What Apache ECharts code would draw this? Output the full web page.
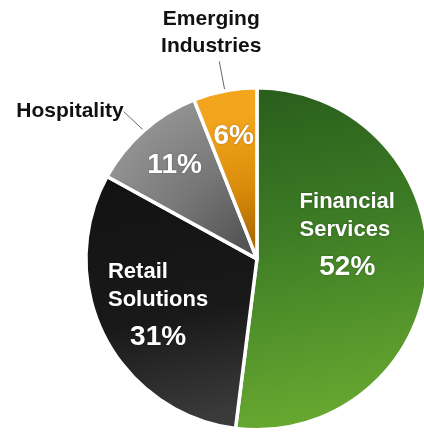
<!DOCTYPE html>
<html><head><meta charset="utf-8">
<script src="https://cdn.jsdelivr.net/npm/echarts@6/dist/echarts.min.js"></script>
<style>html,body{margin:0;padding:0;background:#fff}#c{width:424px;height:438px}</style>
</head><body><div id="c"></div>
<script>
const categories = ['Financial Services', 'Retail Solutions', 'Hospitality', 'Emerging Industries'];
const shares = [52, 31, 11, 6];
const outsideNamed = ['Hospitality', 'Emerging Industries'];

const FONT = "'Liberation Sans', Arial, Helvetica, sans-serif";
const fills = [
  { type: 'linear', x: 0, y: 0, x2: 0.35, y2: 1, colorStops: [
    { offset: 0, color: '#285c1c' }, { offset: 0.45, color: '#3e7d25' }, { offset: 1, color: '#69aa31' } ] },
  { type: 'linear', x: 0, y: 0, x2: 0.3, y2: 1, colorStops: [
    { offset: 0, color: '#121212' }, { offset: 0.6, color: '#191919' }, { offset: 1, color: '#3a3a3a' } ] },
  { type: 'radial', x: 1, y: 1, r: 1.15, colorStops: [
    { offset: 0, color: '#4a4a4a' }, { offset: 0.55, color: '#777777' }, { offset: 1, color: '#939393' } ] },
  { type: 'radial', x: 1, y: 1, r: 2.2, colorStops: [
    { offset: 0, color: '#9a5c00' }, { offset: 0.5, color: '#d98c0a' }, { offset: 1, color: '#f3a51e' } ] }
];

const CENTER = ['60.6%', '59.1%'];
const R = 171;
const isOutside = name => outsideNamed.indexOf(name) >= 0;

const chart = echarts.init(document.getElementById('c'), null, { renderer: 'canvas' });

const baseData = categories.map((c, i) => ({ name: c, value: shares[i] }));

const insideShift = { 'Financial Services': [2, -22], 'Retail Solutions': [-20, 13] };

chart.setOption({
  animation: false,
  backgroundColor: '#ffffff',
  series: [
    {
      type: 'pie', center: CENTER, radius: [0, R], startAngle: 90, clockwise: true,
      silent: true, avoidLabelOverlap: false,
      itemStyle: { borderColor: '#ffffff', borderWidth: 3.5 },
      label: {
        show: true, position: 'inside', color: '#fff',
        textShadowColor: 'rgba(0,0,0,0.35)', textShadowBlur: 2,
        formatter: p => isOutside(p.name) ? '' :
          '{n|' + p.name.replace(' ', '\n') + '}\n{p|' + p.value + '%}',
        rich: {
          n: { fontFamily: FONT, fontWeight: 'bold', fontSize: 22, lineHeight: 28, color: '#fff', align: 'left' },
          p: { fontFamily: FONT, fontWeight: 'bold', fontSize: 28, lineHeight: 46, color: '#fff', align: 'center' }
        }
      },
      labelLine: { show: false },
      labelLayout: p => {
        const name = categories[p.dataIndex];
        const s = insideShift[name] || [0, 0];
        return {
          x: p.labelRect.x + p.labelRect.width / 2 + s[0],
          y: p.labelRect.y + p.labelRect.height / 2 + s[1],
          align: 'center', verticalAlign: 'middle'
        };
      },
      data: baseData.map((d, i) => Object.assign({}, d, { itemStyle: { color: fills[i] } }))
    },
    {
      type: 'pie', center: CENTER, radius: [72, R], startAngle: 90, clockwise: true,
      silent: true, avoidLabelOverlap: false,
      itemStyle: { color: 'rgba(0,0,0,0)', borderWidth: 0 },
      label: {
        show: true, position: 'inside', color: '#fff',
        fontFamily: FONT, fontWeight: 'bold', fontSize: 28,
        textShadowColor: 'rgba(0,0,0,0.3)', textShadowBlur: 2,
        formatter: p => isOutside(p.name) ? p.value + '%' : ''
      },
      labelLine: { show: false },
      data: baseData
    },
    {
      type: 'pie', center: CENTER, radius: [0, R], startAngle: 90, clockwise: true,
      silent: true, avoidLabelOverlap: false,
      itemStyle: { color: 'rgba(0,0,0,0)', borderWidth: 0 },
      label: {
        show: true, position: 'outside', color: '#111',
        fontFamily: FONT, fontWeight: 'bold', fontSize: 21, lineHeight: 27,
        formatter: p => isOutside(p.name) ? p.name.replace(' ', '\n') : ''
      },
      labelLine: { show: true, length: 30, length2: 0, lineStyle: { color: '#666', width: 1 } },
      labelLayout: p => {
        const name = categories[p.dataIndex];
        if (!isOutside(name) || !p.labelLinePoints) return {};
        const end = p.labelLinePoints[p.labelLinePoints.length - 1];
        if (name === 'Hospitality') {
          return { x: end[0] - 54, y: end[1] + 17, align: 'center', verticalAlign: 'bottom' };
        }
        return {
          x: end[0] - 8, y: end[1] - 2,
          align: 'center', verticalAlign: 'bottom',
          labelLinePoints: p.labelLinePoints
        };
      },
      data: baseData.map(d => Object.assign({}, d, { labelLine: { show: isOutside(d.name) } }))
    }
  ]
});
</script>
</body></html>
